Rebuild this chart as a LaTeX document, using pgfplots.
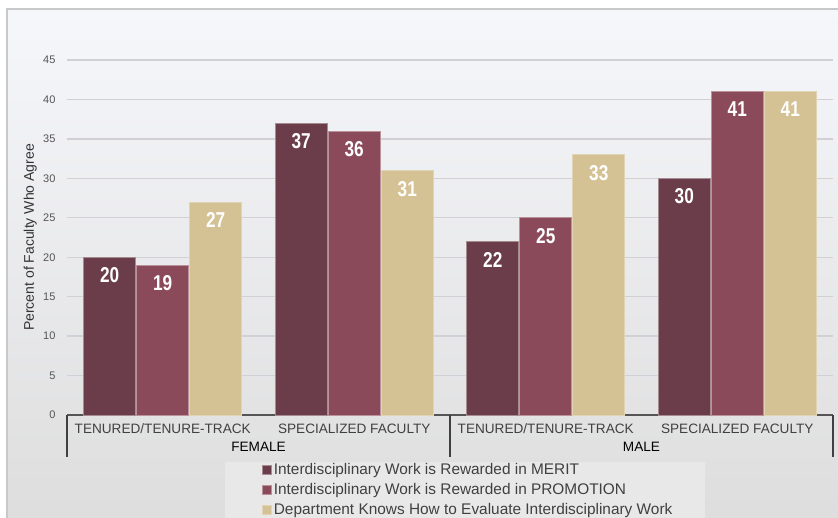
\documentclass[border=0pt]{standalone}
\usepackage{pgfplots}
\pgfplotsset{compat=1.18}
\usepackage{fontspec}
\setmainfont{Liberation Sans}
\newfontfamily\condfont[FakeStretch=0.8]{Liberation Sans}
\definecolor{merit}{RGB}{107,61,74}
\definecolor{promo}{RGB}{138,74,90}
\definecolor{evalc}{RGB}{212,194,149}
\definecolor{bgtop}{RGB}{246,247,251}
\definecolor{bgbot}{RGB}{221,221,221}
\definecolor{framec}{RGB}{200,200,200}
\definecolor{legbg}{RGB}{232,232,232}
\definecolor{gridc}{RGB}{208,208,213}
\definecolor{inkmut}{RGB}{85,85,85}

\begin{document}
\begin{tikzpicture}[x=1pt,y=1pt]
\path[use as bounding box] (0,0) rectangle (838,517);
\fill[white] (0,0) rectangle (838,517);
\shade[top color=bgtop,bottom color=bgbot] (7,-10) rectangle (850,508);
\draw[framec,line width=1.2pt] (7,-10) -- (7,508) -- (850,508);
\fill[legbg] (225,-10) rectangle (705,55);
\begin{axis}[at={(67pt,102pt)},anchor=south west,
  width=766pt,height=355pt,scale only axis,
  /pgf/number format/assume math mode=true,
  ybar=1pt,bar width=52pt,
  xmin=-0.5,xmax=3.5,ymin=0,ymax=45,
  xtick={0,1,2,3},
  xticklabels={TENURED/TENURE-TRACK,SPECIALIZED FACULTY,TENURED/TENURE-TRACK,SPECIALIZED FACULTY},
  ytick={0,5,...,45},
  axis x line*=bottom,axis y line*=left,
  y axis line style={draw=none},
  x axis line style={draw=inkmut,line width=1.3pt,-},
  major tick length=0pt,
  ymajorgrids,grid style={gridc,line width=1.3pt},
  tick label style={text=inkmut},
  yticklabel style={font=\fontsize{11}{13}\selectfont,xshift=-8pt},
  xticklabel style={font=\fontsize{13.6}{15}\selectfont,text=black!75,yshift=-5pt},
  ylabel={Percent of Faculty Who Agree},
  ylabel style={at={(axis description cs:-0.048,0.5)},anchor=center,
    font=\fontsize{14}{16}\selectfont,text=black!80},
  nodes near coords,
  nodes near coords style={font=\condfont\bfseries\fontsize{21.5}{23}\selectfont,
    text=white,anchor=north,yshift=-7pt},
  legend style={at={(0.2546,-0.132)},anchor=north west,draw=none,fill=none,
    inner sep=0pt,row sep=3pt,
    font=\fontsize{15.4}{17}\selectfont,text=black!75,
    nodes={inner xsep=2pt,inner ysep=1.5pt,text height=11pt,text depth=3pt}},
  legend cell align=left,
  legend image code/.code={\fill[#1] (0pt,-4pt) rectangle (9pt,5pt);},
  clip=false]
\addplot[fill=merit,draw=merit!60!white,line width=0.6pt] coordinates {
  (0,20) (1,37) (2,22) (3,30)};
\addplot[fill=promo,draw=promo!60!white,line width=0.6pt] coordinates {
  (0,19) (1,36) (2,25) (3,41)};
\addplot[fill=evalc,draw=evalc!70!white,line width=0.6pt] coordinates {
  (0,27) (1,31) (2,33) (3,41)};
\legend{Interdisciplinary Work is Rewarded in MERIT,
  Interdisciplinary Work is Rewarded in PROMOTION,
  Department Knows How to Evaluate Interdisciplinary Work}
\draw[black!75,line width=1.2pt] (axis cs:-0.5,0) -- ([yshift=-42pt]axis cs:-0.5,0);
\draw[black!75,line width=1.2pt] (axis cs:1.5,0) -- ([yshift=-42pt]axis cs:1.5,0);
\draw[black!75,line width=1.2pt] (axis cs:3.5,0) -- ([yshift=-42pt]axis cs:3.5,0);
\node[font=\fontsize{13.6}{15}\selectfont,text=black] at ([yshift=-32pt]axis cs:0.5,0) {FEMALE};
\node[font=\fontsize{13.6}{15}\selectfont,text=black] at ([yshift=-32pt]axis cs:2.5,0) {MALE};
\end{axis}
\end{tikzpicture}
\end{document}
